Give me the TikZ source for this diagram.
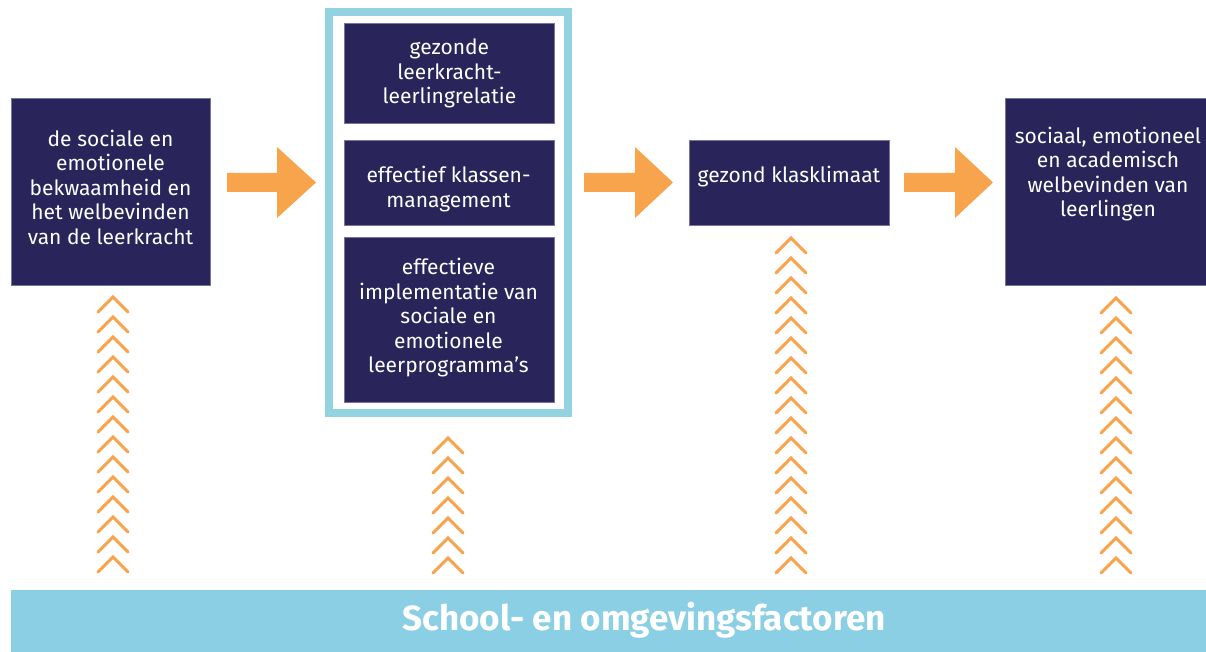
\documentclass[tikz,border=0pt]{standalone}
\usepackage{fontspec}
\setmainfont{Fira Sans}
\begin{document}
\begin{tikzpicture}[x=1pt,y=-1pt,
  navybox/.style={fill=navy, draw=navyline, line width=0.8pt, inner sep=0pt, anchor=north west},
  boxtext/.style={text=white, align=center, font=\fontsize{21}{24.5}\selectfont, inner sep=0pt},
  chev/.style={draw=chevor, line width=3pt, line cap=round, line join=miter},
  blockarrow/.style={fill=arrowor}]
\definecolor{navy}{RGB}{41,36,89}
\definecolor{navyline}{RGB}{120,116,160}
\definecolor{frameblue}{RGB}{147,211,224}
\definecolor{bandblue}{RGB}{139,207,228}
\definecolor{arrowor}{RGB}{247,164,76}
\definecolor{chevor}{RGB}{247,164,76}
\useasboundingbox (0,0) rectangle (1206,652);
\fill[white] (0,0) rectangle (1206,652);

% boxes
\node[navybox, minimum width=199pt, minimum height=187pt] (b1) at (11,98) {};
\node[boxtext] (b1t) at (110.5,187) {de sociale en\\emotionele\\bekwaamheid en\\het welbevinden\\van de leerkracht};

\draw[frameblue, line width=8pt] (329,12) rectangle (567.5,413);
\coordinate (frame) at (448,212);

\node[navybox, minimum width=210pt, minimum height=100pt] (ba) at (344,23) {};
\node[boxtext] (bat) at (ba.center) {gezonde\\leerkracht-\\leerlingrelatie};
\node[navybox, minimum width=210pt, minimum height=85pt] (bb) at (344,140) {};
\node[boxtext] (bbt) at (448.5,189) {effectief klassen-\\management};
\node[navybox, minimum width=210pt, minimum height=165pt] (bc) at (344,237) {};
\node[boxtext] (bct) at (448.5,318) {effectieve\\implementatie van\\sociale en\\emotionele\\leerprogramma's};

\node[navybox, minimum width=200pt, minimum height=85pt] (b3) at (689,140) {};
\node[boxtext] (b3t) at (789,177) {gezond klasklimaat};

\node[navybox, minimum width=202pt, minimum height=187pt] (b4) at (1005,98) {};
\node[boxtext] (b4t) at (1108,174) {sociaal, emotioneel\\en academisch\\welbevinden van\\leerlingen};

% block arrows
\newcommand{\blockarr}[3]{%
  \fill[blockarrow] (#1,173) -- (#2,173) -- (#2,147) -- (#3,182.5) -- (#2,218) -- (#2,192) -- (#1,192) -- cycle;}
\blockarr{227}{277}{316}
\blockarr{584}{635}{673}
\blockarr{904}{955}{993}

% chevron columns
\newcommand{\chevcol}[3]{%
  \foreach \k in {1,...,#3} {
    \pgfmathsetmacro{\yy}{#2+(\k-1)*20}
    \draw[chev] (#1-15,\yy+15) -- (#1,\yy) -- (#1+15,\yy+15);
  }}
\chevcol{113}{297}{14}
\chevcol{448}{438}{7}
\chevcol{791}{238}{17}
\chevcol{1116}{298}{14}

% band
\node[fill=bandblue, inner sep=0pt, anchor=north west, minimum width=1195pt, minimum height=62pt] (band) at (11,590) {};
\node[text=white, font=\fontsize{35}{40}\bfseries\selectfont, inner sep=0pt] (bandt) at (644,620) {School- en omgevingsfactoren};
\end{tikzpicture}
\end{document}
